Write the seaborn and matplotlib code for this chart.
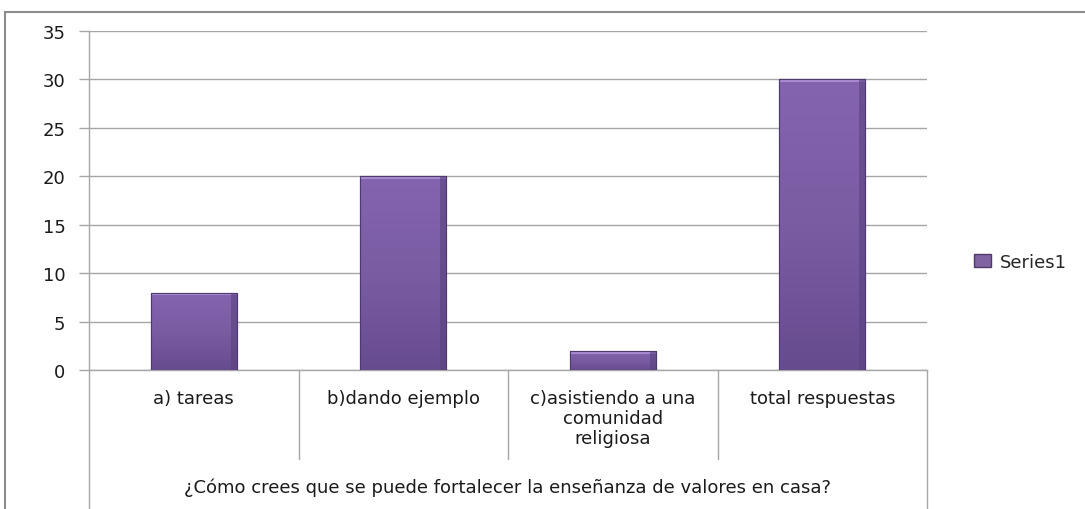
import numpy as np
import pandas as pd
import matplotlib
matplotlib.use("Agg")
import matplotlib.pyplot as plt
import matplotlib.patches as mpatches
import matplotlib.transforms as mtransforms
from matplotlib.colors import LinearSegmentedColormap
import seaborn as sns

categories = ["a) tareas", "b)dando ejemplo", "c)asistiendo a una\ncomunidad\nreligiosa", "total respuestas"]
values = [8, 20, 2, 30]
group_label = "¿Cómo crees que se puede fortalecer la enseñanza de valores en casa?"
series_name = "Series1"
yticks = [0, 5, 10, 15, 20, 25, 30, 35]

sns.set_theme(style="white")
plt.rcParams['font.family'] = ['DejaVu Sans']

W, H = 1085, 510
fig = plt.figure(figsize=(W / 100, H / 100), dpi=100)
L, R, T, B = 89, 927, 32, 371
ax = fig.add_axes([L / W, (H - B) / H, (R - L) / W, (B - T) / H])

df = pd.DataFrame({"cat": categories, "val": values})
purple = "#8064a2"
edge = "#4f3a6e"
sns.barplot(data=df, x="cat", y="val", color=purple, width=0.41, ax=ax,
            edgecolor=edge, linewidth=0.8, saturation=1, zorder=3)
if ax.get_legend() is not None:
    ax.get_legend().remove()

# gradient overlay on each bar
grad = np.linspace(0, 1, 256).reshape(-1, 1)
cmap = LinearSegmentedColormap.from_list("pg", ["#674b8f", "#7a5ca3", "#8464ae"])
hgrad = np.linspace(0, 1, 256).reshape(1, -1)
for p in list(ax.patches):
    x0, y0 = p.get_x(), p.get_y()
    w, h = p.get_width(), p.get_height()
    im = ax.imshow(grad, extent=[x0, x0 + w, y0, y0 + h], origin="lower", cmap=cmap,
                   aspect="auto", zorder=3.5)
    im.set_clip_path(p)
    # light top bevel
    ax.fill_between([x0, x0 + w], y0 + h - 0.3, y0 + h, color="#a98bd2", zorder=3.6, lw=0)
    # darker right bevel
    ax.fill_between([x0 + w * 0.93, x0 + w], y0, y0 + h, color="#5a4280", alpha=0.6, zorder=3.6, lw=0)
    ax.plot([x0, x0 + w, x0 + w], [y0 + h, y0 + h, y0], color=edge, lw=0.8, zorder=3.7)
    ax.plot([x0, x0], [y0, y0 + h], color=edge, lw=0.8, zorder=3.7)

ax.set_xlim(-0.5, len(categories) - 0.5)
ax.set_ylim(0, 35)
ax.set_yticks(yticks)
ax.set_yticklabels([str(v) for v in yticks], fontsize=13, color="#1a1a1a")
ax.yaxis.grid(True, color="#a6a6a6", lw=1.0, zorder=0)
ax.tick_params(axis="y", length=7, width=1, color="#a6a6a6", left=True, pad=10)
ax.set_xticks([])
ax.set_xlabel("")
ax.set_ylabel("")
for s in ["top", "right"]:
    ax.spines[s].set_visible(False)
for s in ["left", "bottom"]:
    ax.spines[s].set_color("#a6a6a6")
    ax.spines[s].set_linewidth(1.0)

trans = mtransforms.blended_transform_factory(ax.transData, ax.transAxes)
inner_bottom = -(460 - B) / (B - T)
outer_bottom = -(515 - B) / (B - T)
n = len(categories)
for i in range(n + 1):
    xb = i - 0.5
    yb = outer_bottom if i in (0, n) else inner_bottom
    ax.plot([xb, xb], [0, yb], transform=trans, color="#a6a6a6", lw=1.0, clip_on=False)

for i, c in enumerate(categories):
    ax.text(i, -(390 - B) / (B - T), c, transform=trans, ha="center", va="top",
            fontsize=13, color="#1a1a1a", linespacing=1.15)

ax.text(0.5, -(488 - B) / (B - T), group_label, transform=ax.transAxes, ha="center",
        va="center", fontsize=13, color="#1a1a1a")

# legend
handle = mpatches.Patch(facecolor=purple, edgecolor=edge, label=series_name)
fig.legend(handles=[handle], loc="center left", bbox_to_anchor=(958 / W, 1 - 263 / H),
           frameon=False, handlelength=0.9, handleheight=0.7, handletextpad=0.5,
           prop={"size": 13})

# outer chart frame
frame = mpatches.Rectangle((5 / W, -0.1), 1.1, (1 - 13 / H) + 0.1, transform=fig.transFigure,
                           fill=False, edgecolor="#8c8c8c", lw=1.5, clip_on=False)
fig.patches.append(frame)

fig.savefig("out.png", dpi=100, facecolor="white")
